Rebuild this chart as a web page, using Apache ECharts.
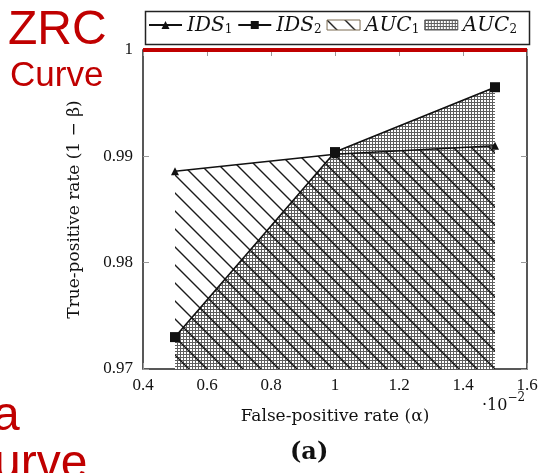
<!DOCTYPE html>
<html><head><meta charset="utf-8">
<script src="https://cdn.jsdelivr.net/npm/echarts@6/dist/echarts.min.js"></script>
<style>html,body{margin:0;padding:0;background:#fff}#c{width:543px;height:473px}</style>
</head><body><div id="c"></div>
<script>
const xValues = [0.5, 1.0, 1.5];
const ids1 = [0.9886, 0.9902, 0.9910];
const ids2 = [0.9730, 0.9904, 0.9965];
const seriesNames = ['IDS1', 'IDS2', 'AUC1', 'AUC2'];
const xTicks = [0.4, 0.6, 0.8, 1.0, 1.2, 1.4, 1.6];
const yTicks = [0.97, 0.98, 0.99, 1.0];
const xAxisTitle = 'False-positive rate (α)';
const yAxisTitle = 'True-positive rate (1 − β)';
const referenceLevel = 1.0;

function pairs(ys) { return xValues.map((x, i) => [x, ys[i]]); }

function dotPattern() {
  const c = document.createElement('canvas'); c.width = 3; c.height = 3;
  const g = c.getContext('2d');
  g.fillStyle = '#fff'; g.fillRect(0, 0, 3, 3);
  g.fillStyle = '#5e5e5e'; g.fillRect(0, 0, 3, 1); g.fillRect(0, 0, 1, 3);
  return c;
}
function hatchPattern() {
  const s = 18; const c = document.createElement('canvas'); c.width = s; c.height = s;
  const g = c.getContext('2d');
  g.strokeStyle = '#1a1a1a'; g.lineWidth = 1.4;
  g.beginPath();
  g.moveTo(-2, -2); g.lineTo(s + 2, s + 2);
  g.moveTo(-2, s - 2); g.lineTo(2, s + 2);
  g.moveTo(s - 2, -2); g.lineTo(s + 2, 2);
  g.stroke();
  return c;
}
const dots = { image: dotPattern(), repeat: 'repeat' };
const hatch = { image: hatchPattern(), repeat: 'repeat' };

const serif = 'Liberation Serif';
const wideSerif = 'DejaVu Serif';
const fmtNum = v => String(Number(v.toFixed(2)));

const chart = echarts.init(document.getElementById('c'), null, { renderer: 'canvas' });

function axisCommon(extra) {
  return Object.assign({
    type: 'value',
    axisLine: { show: false },
    axisTick: { show: true, inside: true, length: 6, lineStyle: { color: '#999', width: 1 } },
    splitLine: { show: false },
  }, extra);
}

chart.setOption({
  backgroundColor: '#fff',
  animation: false,
  grid: { left: 143, right: 16, top: 50, bottom: 104, show: true, borderColor: '#222', borderWidth: 1.5, backgroundColor: 'transparent' },
  legend: {
    left: 148, top: 16, itemGap: 5, itemWidth: 33, itemHeight: 10, padding: [0, 0, 0, 0],
    data: [
      { name: 'IDS1' },
      { name: 'IDS2' },
      { name: 'AUC1', icon: 'rect', itemStyle: { color: hatch, borderColor: '#7a6a50', borderWidth: 1 } },
      { name: 'AUC2', icon: 'rect', itemStyle: { color: dots, borderColor: '#555', borderWidth: 1 } }
    ],
    formatter: name => '{i|' + name.slice(0, -1) + '}{s|' + name.slice(-1) + '}',
    textStyle: {
      padding: [0, 0, 0, 0],
      rich: {
        i: { fontFamily: wideSerif, fontStyle: 'italic', fontSize: 20, color: '#111', lineHeight: 22, verticalAlign: 'bottom' },
        s: { fontFamily: wideSerif, fontSize: 12, color: '#111', lineHeight: 22, verticalAlign: 'bottom', padding: [8, 0, 0, 0] }
      }
    }
  },
  xAxis: [
    axisCommon({
      min: xTicks[0], max: xTicks[xTicks.length - 1], interval: 0.2, position: 'bottom',
      axisLabel: { formatter: fmtNum, fontFamily: serif, fontSize: 17, color: '#111', margin: 8 },
      name: xAxisTitle, nameLocation: 'middle', nameGap: 39,
      nameTextStyle: { fontFamily: wideSerif, fontSize: 17, color: '#111' }
    }),
    axisCommon({ min: xTicks[0], max: xTicks[xTicks.length - 1], interval: 0.2, position: 'top', axisLabel: { show: false } })
  ],
  yAxis: [
    axisCommon({
      min: yTicks[0], max: yTicks[yTicks.length - 1], interval: 0.01, position: 'left',
      axisLabel: { formatter: fmtNum, fontFamily: serif, fontSize: 17, color: '#111', margin: 10 },
      name: yAxisTitle, nameLocation: 'middle', nameGap: 60, nameRotate: 90,
      nameTextStyle: { fontFamily: wideSerif, fontSize: 17, color: '#111' }
    }),
    axisCommon({ min: yTicks[0], max: yTicks[yTicks.length - 1], interval: 0.01, position: 'right', axisLabel: { show: false } })
  ],
  series: [
    {
      name: 'AUC2', type: 'line', data: pairs(ids2), symbol: 'none', z: 1,
      lineStyle: { width: 0 }, itemStyle: { color: dots },
      areaStyle: { color: dots, opacity: 1, origin: 'start' }
    },
    {
      name: 'AUC1', type: 'line', data: pairs(ids1), symbol: 'none', z: 2,
      lineStyle: { width: 0 }, itemStyle: { color: hatch },
      areaStyle: { color: hatch, opacity: 1, origin: 'start' }
    },
    {
      name: 'IDS1', type: 'line', data: pairs(ids1), z: 3,
      symbol: 'triangle', symbolSize: 8,
      lineStyle: { color: '#111', width: 1.6 }, itemStyle: { color: '#111' }
    },
    {
      name: 'IDS2', type: 'line', data: pairs(ids2), z: 3,
      symbol: 'rect', symbolSize: 10,
      lineStyle: { color: '#111', width: 1.6 }, itemStyle: { color: '#111' },
      markLine: {
        silent: true, symbol: 'none', label: { show: false },
        lineStyle: { color: '#c00000', width: 4, type: 'solid' },
        data: [{ yAxis: referenceLevel }]
      }
    }
  ],
  graphic: [
    { type: 'rect', left: 143, top: 9, z: 0, shape: { width: 384, height: 33 }, style: { fill: 'none', stroke: '#222', lineWidth: 1.5 } },
    { type: 'text', left: 8, top: 7, style: { text: 'ZRC', font: '48px "Liberation Sans"', fill: '#c00000' } },
    { type: 'text', left: 10, top: 59, style: { text: 'Curve', font: '35px "Liberation Sans"', fill: '#c00000' } },
    { type: 'text', left: -7, top: 393, style: { text: 'a', font: '48px "Liberation Sans"', fill: '#c00000' } },
    { type: 'text', left: -6, top: 441, style: { text: 'urve', font: '48px "Liberation Sans"', fill: '#c00000' } },
    { type: 'text', left: 482, top: 392, style: { text: '{a|·10}{b|−2}', rich: {
        a: { fontFamily: wideSerif, fontSize: 16, fill: '#111', lineHeight: 22, verticalAlign: 'bottom' },
        b: { fontFamily: wideSerif, fontSize: 12, fill: '#111', lineHeight: 22, verticalAlign: 'top' } } } },
    { type: 'text', left: 290, top: 441, style: { text: '(a)', font: 'bold 24px "DejaVu Serif"', fill: '#111' } }
  ]
});
</script>
</body></html>
